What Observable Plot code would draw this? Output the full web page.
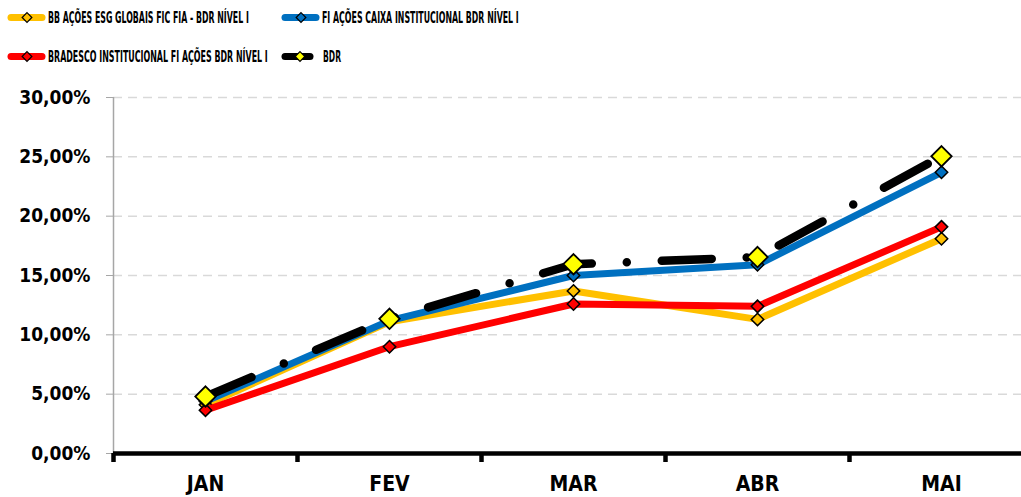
<!DOCTYPE html>
<html>
<head>
<meta charset="utf-8">
<script src="https://cdn.jsdelivr.net/npm/d3@7"></script>
<script src="https://cdn.jsdelivr.net/npm/@observablehq/plot@0.6"></script>
<style>
  html, body { margin: 0; padding: 0; background: #fff; overflow: hidden; }
  #legend { display: block; }
  #chart svg { display: block; }
</style>
</head>
<body>
<svg id="legend" width="1021" height="78"></svg>
<div id="chart"></div>
<script>
// ---- data ----
const months = ["JAN", "FEV", "MAR", "ABR", "MAI"];
const seriesNames = [
  "BB AÇÕES ESG GLOBAIS FIC FIA - BDR NÍVEL I",
  "FI AÇÕES CAIXA INSTITUCIONAL BDR NÍVEL I",
  "BRADESCO INSTITUCIONAL FI AÇÕES BDR NÍVEL I",
  "BDR"
];
const bbEsg    = [0.041, 0.111, 0.137, 0.113, 0.181];
const caixa    = [0.044, 0.112, 0.150, 0.159, 0.237];
const bradesco = [0.0365, 0.090, 0.126, 0.124, 0.191];
const bdr      = [0.048, 0.1135, 0.1595, 0.1655, 0.2505];
const yTicks = [0, 0.05, 0.10, 0.15, 0.20, 0.25, 0.30];

const seriesValues = [bbEsg, caixa, bradesco, bdr];
const lineColors = ["#FFC000", "#0070C0", "#FF0000", "#000000"];
const markerColors = ["#FFC000", "#0070C0", "#FF0000", "#FFFF00"];

const rows = seriesNames.map((name, s) =>
  months.map((m, i) => ({series: name, s, month: m, value: seriesValues[s][i]}))
);

const FONT = "'DejaVu Sans Condensed', 'Liberation Sans Narrow', sans-serif";
const fmt = d => (d * 100).toFixed(2).replace(".", ",") + "%";

// ---- legend (above the chart) ----
const legend = d3.select("#legend");
const legendLayout = [
  {x0: 8, x1: 45, mx: 27, tx: 48, tw: 201, y: 17.5},
  {x0: 282, x1: 319, mx: 301, tx: 322, tw: 197, y: 17.5},
  {x0: 8, x1: 45, mx: 27, tx: 48, tw: 220, y: 56.5},
  {x0: 282, x1: 313, mx: 300, tx: 323, tw: 18, y: 56.5}
];
const diamond = d3.symbol(d3.symbolDiamond2, 60);
seriesNames.forEach((name, s) => {
  const L = legendLayout[s];
  legend.append("line")
    .attr("x1", L.x0 + 3).attr("x2", L.x1 - 3).attr("y1", L.y).attr("y2", L.y)
    .attr("stroke", lineColors[s]).attr("stroke-width", 7).attr("stroke-linecap", "round");
  legend.append("path")
    .attr("d", diamond())
    .attr("transform", `translate(${L.mx},${L.y})`)
    .attr("fill", markerColors[s]).attr("stroke", "#000").attr("stroke-width", 1.2);
  const t = legend.append("text")
    .attr("x", 0).attr("y", 0)
    .attr("font-family", FONT).attr("font-weight", "bold").attr("font-size", 16)
    .text(name);
  const natural = t.node().getComputedTextLength() || L.tw;
  const k = Math.min(1, L.tw / natural);
  t.attr("transform", `translate(${L.tx},${L.y + 5.8}) scale(${k},1)`);
});

// ---- chart ----
const xRange = [205, 941];
const halfStep = (xRange[1] - xRange[0]) / (months.length - 1) / 2;

const lineMarks = rows.flatMap((data, s) => {
  const isBdr = s === 3;
  return [
    Plot.line(data, {
      x: "month", y: "value",
      stroke: lineColors[s],
      strokeWidth: isBdr ? 8.5 : 7,
      strokeLinecap: "round",
      strokeLinejoin: "round",
      strokeDasharray: isBdr ? "50,35,0,35" : null
    }),
    Plot.dot(data, {
      x: "month", y: "value",
      symbol: "diamond2",
      r: isBdr ? 9.2 : 5.6,
      fill: markerColors[s],
      stroke: "#000",
      strokeWidth: isBdr ? 1.8 : 1.5
    })
  ];
});

const chart = Plot.plot({
  width: 1021,
  height: 419,
  marginTop: 19,
  marginBottom: 44,
  marginLeft: 113,
  marginRight: 0,
  style: {fontFamily: FONT, fontWeight: "bold", color: "#000", background: "#fff"},
  x: {type: "point", domain: months, range: xRange, padding: 0},
  y: {domain: [0, 0.30]},
  marks: [
    Plot.gridY(yTicks.slice(1), {stroke: "#d9d9d9", strokeOpacity: 1, strokeWidth: 1.5, strokeDasharray: "9,6"}),
    Plot.ruleX([months[0]], {y1: 0, y2: 0.30, dx: -halfStep, stroke: "#a6a6a6", strokeWidth: 1.5}),
    Plot.axisY(yTicks, {tickFormat: fmt, tickSize: 7, tickPadding: 16, stroke: "#a6a6a6", fill: "#000", fontSize: 19, label: null}),
    Plot.ruleY([0], {stroke: "#000", strokeWidth: 4.5}),
    Plot.axisX(months, {text: null, tickSize: 9, dx: -halfStep, stroke: "#000", strokeWidth: 4.5, label: null}),
    Plot.axisX(months, {tickSize: 0, tickPadding: 23, fill: "#000", fontSize: 21, label: null}),
    ...lineMarks
  ]
});
document.getElementById("chart").appendChild(chart);
</script>
</body>
</html>
